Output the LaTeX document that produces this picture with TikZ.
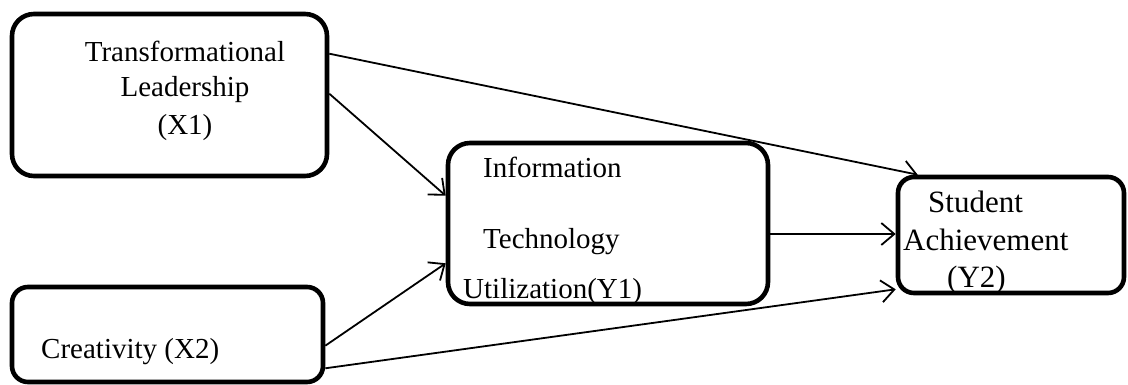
\documentclass[tikz,border=0pt]{standalone}
\usepackage{fontspec}
\setmainfont{Liberation Serif}
\usetikzlibrary{arrows.meta}
\begin{document}
\begin{tikzpicture}[x=1pt,y=-1pt,
  box/.style={draw,line width=4.6pt,rounded corners=#1,inner sep=0pt,text width=0pt},
  box/.default=22pt,
  lbl/.style={inner sep=0pt,font=\fontsize{29}{35}\selectfont},
  lblb/.style={inner sep=0pt,font=\fontsize{31}{37}\selectfont},
  arr/.style={line width=1.8pt,-{Straight Barb[length=13pt,width=22pt,line width=1.8pt]}}]
\useasboundingbox (0,0) rectangle (1128,385);
\node[box,minimum width=315pt,minimum height=162pt] (x1) at (169.5,95) {};
\node[box=16pt,minimum width=311pt,minimum height=95pt] (x2) at (167.5,334.5) {};
\node[box,minimum width=320pt,minimum height=161pt] (y1) at (608,223.5) {};
\node[box=16pt,minimum width=226pt,minimum height=116pt] (y2) at (1011,235) {};
% texts
\node[lbl,anchor=base] (t1) at (185,62) {Transformational};
\node[lbl,anchor=base] (t2) at (185,97) {Leadership};
\node[lbl,anchor=base] (t3) at (185,135) {(X1)};
\node[lbl,anchor=base west] (t4) at (41,358) {Creativity (X2)};
\node[lbl,anchor=base west] (t5) at (483,178) {Information};
\node[lbl,anchor=base west] (t6) at (483,248) {Technology};
\node[lbl,anchor=base west] (t7) at (463,298) {Utilization(Y1)};
\node[lblb,anchor=base west] (t8) at (928,213) {Student};
\node[lblb,anchor=base west] (t9) at (903,250) {Achievement};
\node[lblb,anchor=base west] (t10) at (947,287) {(Y2)};
% connectors
\draw[arr] ([yshift=-42pt]x1.north east) -- ([xshift=22pt]y2.north west);
\draw[arr] ([yshift=-82pt]x1.north east) -- ([yshift=-55pt]y1.north west);
\draw[arr] ([yshift=-61pt]x2.north east) -- ([yshift=43pt]y1.south west);
\draw[arr] ([yshift=16pt]x2.south east) -- ([yshift=6pt]y2.south west);
\draw[arr] ([yshift=-10.5pt]y1.east) -- ([yshift=1pt]y2.west);
\end{tikzpicture}
\end{document}
